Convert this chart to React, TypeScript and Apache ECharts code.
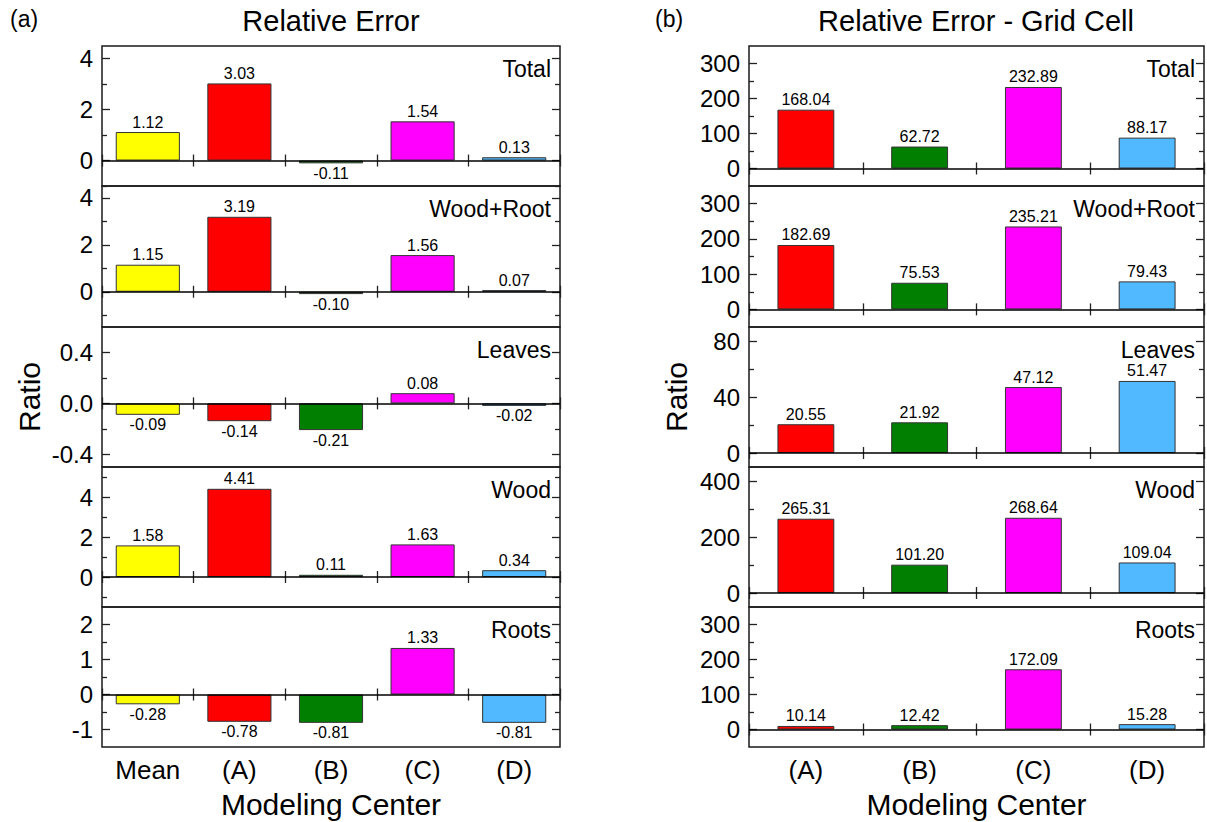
import React, { useEffect, useRef } from 'react';
import * as echarts from 'echarts';

const panelNames = ['Total', 'Wood+Root', 'Leaves', 'Wood', 'Roots'];
const categoriesA = ['Mean', '(A)', '(B)', '(C)', '(D)'];
const categoriesB = ['(A)', '(B)', '(C)', '(D)'];
const colorsA = ['#FFFF00', '#FF0000', '#007F00', '#FF00FF', '#50B9FF'];
const colorsB = ['#FF0000', '#007F00', '#FF00FF', '#50B9FF'];

// (a) Relative Error
const relTotal = [1.12, 3.03, -0.11, 1.54, 0.13];
const relWoodRoot = [1.15, 3.19, -0.1, 1.56, 0.07];
const relLeaves = [-0.09, -0.14, -0.21, 0.08, -0.02];
const relWood = [1.58, 4.41, 0.11, 1.63, 0.34];
const relRoots = [-0.28, -0.78, -0.81, 1.33, -0.81];

// (b) Relative Error - Grid Cell
const cellTotal = [168.04, 62.72, 232.89, 88.17];
const cellWoodRoot = [182.69, 75.53, 235.21, 79.43];
const cellLeaves = [20.55, 21.92, 47.12, 51.47];
const cellWood = [265.31, 101.2, 268.64, 109.04];
const cellRoots = [10.14, 12.42, 172.09, 15.28];

// axis ranges and ticks
const rangeA = [[-1, 4.5], [-1.5, 4.5], [-0.5, 0.6], [-1.5, 5.5], [-1.5, 2.5]];
const majorA = [[0, 2, 4], [0, 2, 4], [-0.4, 0, 0.4], [0, 2, 4], [-1, 0, 1, 2]];
const minorA = [[-1, 1, 3], [-1, 1, 3], [-0.2, 0.2], [-1, 1, 3, 5], [-0.5, 0.5, 1.5]];
const decimalsA = [0, 0, 1, 0, 0];

const rangeB = [[-50, 350], [-50, 350], [-10, 90], [-50, 450], [-50, 350]];
const majorB = [[0, 100, 200, 300], [0, 100, 200, 300], [0, 40, 80], [0, 200, 400], [0, 100, 200, 300]];
const minorB = [[50, 150, 250], [50, 150, 250], [20, 60], [100, 300], [50, 150, 250]];
const decimalsB = [0, 0, 0, 0, 0];

const FONT = 'Liberation Sans, Arial, sans-serif';
const TOPS = [46, 186, 327, 467, 607];
const HEIGHTS = [140, 141, 140, 140, 140];

function buildOption() {
  const grids: any[] = [];
  const xAxes: any[] = [];
  const yAxes: any[] = [];
  const series: any[] = [];
  const graphics: any[] = [];
  const tickStyle = { color: '#222', width: 1.3 };

  function addPanel(left: number, width: number, cats: string[], colors: string[], values: number[][],
    ranges: number[][], majors: number[][], minors: number[][], decimals: number[], barWidth: string) {
    for (let i = 0; i < 5; i++) {
      const gi = grids.length;
      grids.push({ left, top: TOPS[i], width, height: HEIGHTS[i], show: true, borderColor: '#1a1a1a', borderWidth: 1.5, backgroundColor: 'transparent' });
      const isLast = i === 4;
      const xb = xAxes.length;
      xAxes.push({
        type: 'category', gridIndex: gi, data: cats, position: 'bottom',
        axisLine: { show: false },
        axisTick: { show: true, inside: true, length: 6, lineStyle: tickStyle },
        axisLabel: { show: isLast, margin: 10, fontSize: 26, color: '#000', fontFamily: FONT },
        splitLine: { show: false },
        name: isLast ? 'Modeling Center' : '', nameLocation: 'middle', nameGap: 42,
        nameTextStyle: { fontSize: 30, color: '#000', fontFamily: FONT },
      });
      xAxes.push({
        type: 'category', gridIndex: gi, data: cats, position: 'top',
        axisLine: { show: false },
        axisTick: { show: true, inside: true, length: 6, lineStyle: tickStyle },
        axisLabel: { show: false }, splitLine: { show: false },
      });
      const [mn, mx] = ranges[i];
      const yb = yAxes.length;
      const common = { type: 'value', gridIndex: gi, min: mn, max: mx, splitLine: { show: false }, axisLine: { show: false } };
      const dec = decimals[i];
      yAxes.push({
        ...common, position: 'left',
        axisTick: { show: true, inside: true, length: 8, customValues: majors[i], lineStyle: tickStyle },
        axisLabel: { show: true, customValues: majors[i], formatter: (v: number) => Number(v).toFixed(dec), margin: 9, fontSize: 24, color: '#000', fontFamily: FONT },
        name: i === 2 ? 'Ratio' : '', nameLocation: 'middle', nameRotate: 90, nameGap: 58,
        nameTextStyle: { fontSize: 30, color: '#000', fontFamily: FONT },
      });
      yAxes.push({ ...common, position: 'left', axisTick: { show: true, inside: true, length: 5, customValues: minors[i], lineStyle: tickStyle }, axisLabel: { show: false } });
      yAxes.push({ ...common, position: 'right', axisTick: { show: true, inside: true, length: 8, customValues: majors[i], lineStyle: tickStyle }, axisLabel: { show: false } });
      yAxes.push({ ...common, position: 'right', axisTick: { show: true, inside: true, length: 5, customValues: minors[i], lineStyle: tickStyle }, axisLabel: { show: false } });
      series.push({
        type: 'bar', xAxisIndex: xb, yAxisIndex: yb, barWidth,
        data: values[i].map((v, k) => ({ value: v, itemStyle: { color: colors[k] }, label: { position: v < 0 ? 'bottom' : 'top' } })),
        itemStyle: { borderColor: '#333', borderWidth: 1 },
        label: { show: true, distance: 2, fontSize: 16, color: '#000', fontFamily: FONT, formatter: (p: any) => Number(p.value).toFixed(2) },
        markLine: { silent: true, symbol: 'none', label: { show: false }, lineStyle: { color: '#000', width: 1.5, type: 'solid' }, data: [{ yAxis: 0 }] },
      });
      graphics.push({
        type: 'text', x: left + width - 9, y: TOPS[i] + 11,
        style: { text: panelNames[i], fill: '#000', fontSize: 23, fontFamily: FONT, align: 'right', verticalAlign: 'top' },
      });
    }
  }

  addPanel(102, 458, categoriesA, colorsA, [relTotal, relWoodRoot, relLeaves, relWood, relRoots], rangeA, majorA, minorA, decimalsA, '70%');
  addPanel(749, 455, categoriesB, colorsB, [cellTotal, cellWoodRoot, cellLeaves, cellWood, cellRoots], rangeB, majorB, minorB, decimalsB, '50%');

  graphics.push({ type: 'text', x: 331, y: 6, style: { text: 'Relative Error', fill: '#000', fontSize: 29, fontFamily: FONT, align: 'center', verticalAlign: 'top' } });
  graphics.push({ type: 'text', x: 976, y: 6, style: { text: 'Relative Error - Grid Cell', fill: '#000', fontSize: 29, fontFamily: FONT, align: 'center', verticalAlign: 'top' } });
  graphics.push({ type: 'text', x: 10, y: 7, style: { text: '(a)', fill: '#000', fontSize: 23, fontFamily: FONT, align: 'left', verticalAlign: 'top' } });
  graphics.push({ type: 'text', x: 655, y: 7, style: { text: '(b)', fill: '#000', fontSize: 23, fontFamily: FONT, align: 'left', verticalAlign: 'top' } });

  return {
    animation: false,
    backgroundColor: '#fff',
    grid: grids,
    xAxis: xAxes,
    yAxis: yAxes,
    series,
    graphic: graphics,
  };
}

export default function App() {
  const ref = useRef<HTMLDivElement>(null);
  useEffect(() => {
    if (!ref.current) return;
    const chart = echarts.init(ref.current, undefined, { renderer: 'svg' });
    chart.setOption(buildOption() as any);
    return () => chart.dispose();
  }, []);
  return <div ref={ref} style={{ position: 'absolute', left: 0, top: 0, width: 1207, height: 822 }} />;
}
